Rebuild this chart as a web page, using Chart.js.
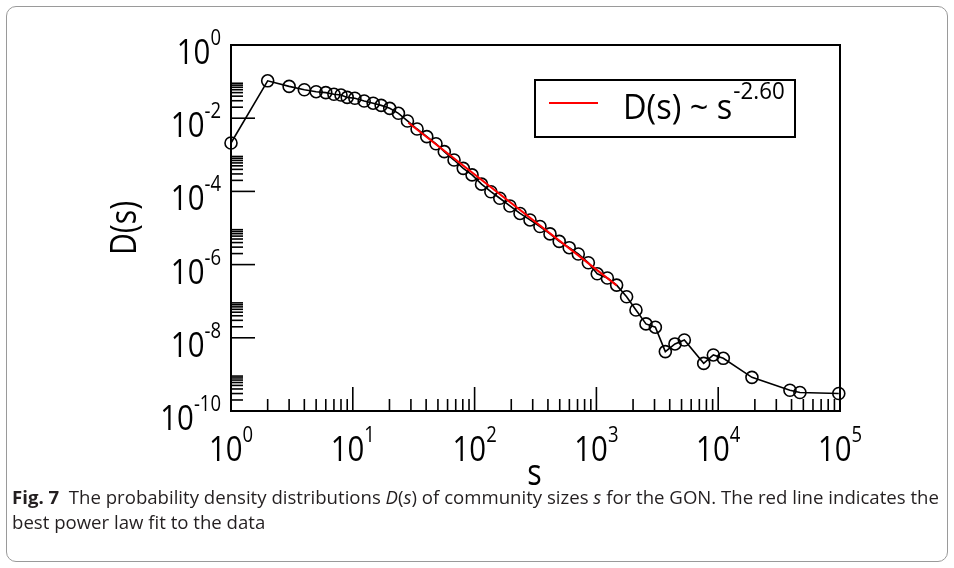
<!DOCTYPE html>
<html>
<head>
<meta charset="utf-8">
<script src="https://cdn.jsdelivr.net/npm/chart.js@4.4.1/dist/chart.umd.min.js"></script>
<style>
  html, body { margin: 0; padding: 0; background: #fff; }
  #frame { position: absolute; left: 6px; top: 6px; width: 942px; height: 556px; border: 1px solid #9a9a9a; border-radius: 10px; box-sizing: border-box; }
  #wrap { position: absolute; left: 0; top: 0; width: 954px; height: 500px; }
  #caption { position: absolute; left: 12px; top: 484px; font-family: "Open Sans", sans-serif; font-size: 18.6px; line-height: 25px; color: #231f20; white-space: nowrap; }
  #caption b { font-weight: 700; }
</style>
</head>
<body>
<div id="frame"></div>
<div id="wrap"><canvas id="dsChart"></canvas></div>
<div id="caption"><b>Fig. 7</b>&nbsp; The probability density distributions <i>D</i>(<i>s</i>) of community sizes <i>s</i> for the GON. The red line indicates the<br>best power law fit to the data</div>
<script>
// community size s (log-binned) and density D(s)
const sizes = [1, 2, 3, 4, 5, 6, 7, 8, 9, 10.4, 12.4, 14.7, 17.1, 20.1, 23.7, 28.1, 33.7, 40.5, 48.2, 56.4,
  67.8, 80.7, 95.3, 114, 136, 161, 195, 236, 285, 344, 416, 495, 598, 710, 859, 1016, 1230, 1466, 1770,
  2113, 2553, 3048, 3681, 4416, 5272, 7603, 9120, 11015, 18923, 38815, 46881, 97724];
const density = [2.1e-3, 0.105, 0.074, 0.060, 0.053, 0.050, 0.045, 0.043, 0.037, 0.035, 0.0295, 0.0257,
  0.0224, 0.0186, 0.0136, 8.4e-3, 5.07e-3, 3.13e-3, 2.0e-3, 1.22e-3, 7.2e-4, 4.27e-4, 2.82e-4, 1.58e-4,
  9.8e-5, 6.5e-5, 4.0e-5, 2.5e-5, 1.66e-5, 1.1e-5, 6.9e-6, 4.3e-6, 2.9e-6, 1.95e-6, 1.12e-6, 5.6e-7,
  4.3e-7, 2.75e-7, 1.32e-7, 5.75e-8, 2.4e-8, 1.95e-8, 4.2e-9, 6.8e-9, 8.7e-9, 2.0e-9, 3.4e-9, 2.75e-9,
  8.3e-10, 3.7e-10, 3.2e-10, 3.0e-10];
// power law fit D(s) ~ s^-2.60, end points
const fitS = [28.6, 1466];
const fitD = [7.53e-3, 2.70e-7];
const fitLabel = 'D(s) ~ s';
const fitExp = '-2.60';
// tick label exponents
const xTickExps = [0, 1, 2, 3, 4, 5];
const yTickExps = [0, -2, -4, -6, -8, -10];

const FONT = '"Open Sans", "Liberation Sans", sans-serif';

function squeezedText(ctx, txt, x, y, size, sq) {
  ctx.save();
  ctx.font = size + 'px ' + FONT;
  ctx.translate(x, y);
  ctx.scale(sq || 0.84, 1);
  ctx.fillText(txt, 0, 0);
  ctx.restore();
}
function textW(ctx, txt, size, sq) {
  ctx.font = size + 'px ' + FONT;
  return ctx.measureText(txt).width * (sq || 0.84);
}
// "10" with superscript exponent
function powLabel(ctx, exp, x, y, align) {
  const wb = textW(ctx, '10', 35), ws = textW(ctx, String(exp), 22);
  let x0 = align === 'right' ? x - wb - ws : x - (wb + ws) / 2;
  squeezedText(ctx, '10', x0, y, 35);
  squeezedText(ctx, String(exp), x0 + wb, y - 19, 22);
}
function seg(ctx, x1, y1, x2, y2) {
  ctx.beginPath(); ctx.moveTo(x1, y1); ctx.lineTo(x2, y2); ctx.stroke();
}

const axisDecor = {
  id: 'axisDecor',
  beforeDatasetsDraw(chart) {
    const { ctx, chartArea: a, scales: { x, y } } = chart;
    ctx.save();
    ctx.strokeStyle = '#000';
    ctx.fillStyle = '#000';
    ctx.textAlign = 'left';
    ctx.textBaseline = 'alphabetic';
    ctx.lineWidth = 1.6;
    // inward ticks, y axis
    yTickExps.forEach(e => {
      const py = y.getPixelForValue(Math.pow(10, e));
      seg(ctx, a.left, py, a.left + 24, py);
      for (let k = 2; k <= 9; k++) {
        const v = k * Math.pow(10, e);
        if (v > y.max) continue;
        const p = y.getPixelForValue(v);
        seg(ctx, a.left, p, a.left + 12, p);
      }
      powLabel(ctx, e, a.left - 10, py + 19, 'right');
    });
    // inward ticks, x axis
    xTickExps.forEach(e => {
      const px = x.getPixelForValue(Math.pow(10, e));
      seg(ctx, px, a.bottom, px, a.bottom - 24);
      for (let k = 2; k <= 9; k++) {
        const v = k * Math.pow(10, e);
        if (v > x.max) continue;
        const p = x.getPixelForValue(v);
        seg(ctx, p, a.bottom, p, a.bottom - 12);
      }
      powLabel(ctx, e, px, a.bottom + 50, 'center');
    });
    ctx.lineWidth = 2;
    ctx.strokeRect(a.left, a.top, a.right - a.left, a.bottom - a.top);
    // axis titles
    ctx.save();
    ctx.translate(124, (a.top + a.bottom) / 2);
    ctx.rotate(-Math.PI / 2);
    const wt = textW(ctx, 'D(s)', 36);
    squeezedText(ctx, 'D(s)', -wt / 2, 12, 36);
    ctx.restore();
    const ws = textW(ctx, 's', 36);
    squeezedText(ctx, 's', (a.left + a.right) / 2 - ws / 2 - 1, a.bottom + 74, 36);
    ctx.restore();
  },
  afterDatasetsDraw(chart) {
    const { ctx, chartArea: a } = chart;
    const bx = a.right - 305, by = a.top + 35, bw = 260, bh = 57;
    ctx.save();
    ctx.fillStyle = '#fff';
    ctx.fillRect(bx, by, bw, bh);
    ctx.strokeStyle = '#000';
    ctx.lineWidth = 2;
    ctx.strokeRect(bx, by, bw, bh);
    ctx.strokeStyle = '#ff0000';
    ctx.lineWidth = 2;
    seg(ctx, bx + 14, by + 23, bx + 63, by + 23);
    ctx.fillStyle = '#000';
    squeezedText(ctx, fitLabel, bx + 88, by + 39, 35, 0.93);
    const wl = textW(ctx, fitLabel, 35, 0.93);
    squeezedText(ctx, fitExp, bx + 88 + wl + 1, by + 19, 24, 0.93);
    ctx.restore();
  }
};

new Chart(document.getElementById('dsChart'), {
  type: 'scatter',
  data: {
    datasets: [{
      label: 'fit',
      data: fitS.map((s, i) => ({ x: s, y: fitD[i] })),
      showLine: true,
      borderColor: '#ff0000',
      borderWidth: 2,
      pointRadius: 0,
      clip: false
    }, {
      label: 'D(s)',
      data: sizes.map((s, i) => ({ x: s, y: density[i] })),
      showLine: true,
      borderColor: '#000',
      borderWidth: 1.6,
      pointRadius: 6,
      pointBorderWidth: 1.6,
      pointBorderColor: '#000',
      pointBackgroundColor: 'rgba(0,0,0,0)',
      clip: false
    }]
  },
  options: {
    responsive: true,
    maintainAspectRatio: false,
    animation: false,
    events: [],
    layout: { padding: { left: 231, top: 45, right: 114, bottom: 89 } },
    scales: {
      x: { type: 'logarithmic', min: 1, max: 1e5, display: false },
      y: { type: 'logarithmic', min: 1e-10, max: 1, display: false }
    },
    plugins: {
      legend: { display: false },
      tooltip: { enabled: false }
    }
  },
  plugins: [axisDecor]
});
</script>
</body>
</html>
